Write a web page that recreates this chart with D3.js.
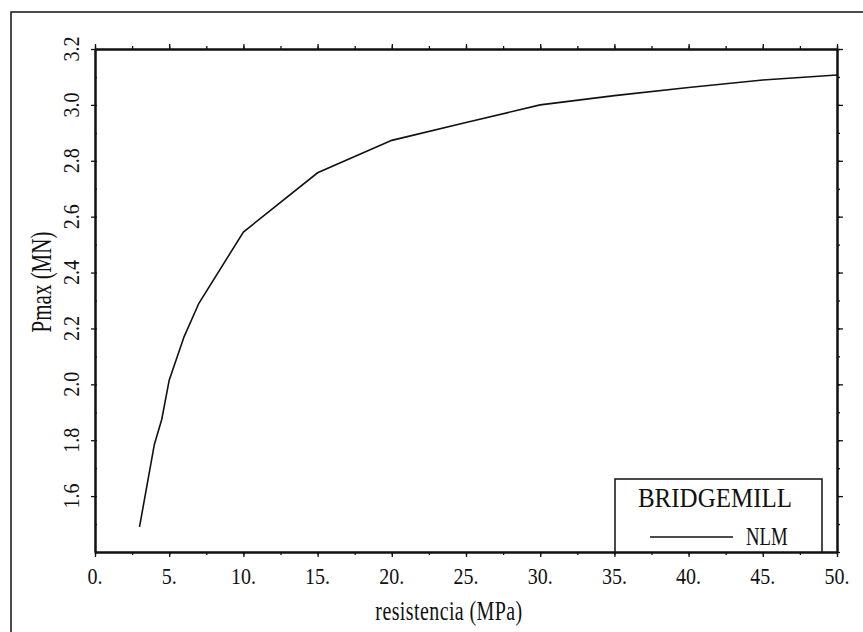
<!DOCTYPE html>
<html>
<head>
<meta charset="utf-8">
<script src="https://cdn.jsdelivr.net/npm/d3@7"></script>
<style>
  body { margin: 0; background: #fff; }
</style>
</head>
<body>
<div id="chart"></div>
<script>
// data
const resistencia = [3, 4, 4.5, 5, 6, 7, 10, 15, 20, 25, 30, 35, 40, 45, 50];
const pmax = [1.49, 1.785, 1.875, 2.015, 2.17, 2.29, 2.545, 2.757, 2.873, 2.937, 3.0, 3.033, 3.062, 3.089, 3.107];
const xTicks = [0, 5, 10, 15, 20, 25, 30, 35, 40, 45, 50];
const yTicks = [1.6, 1.8, 2.0, 2.2, 2.4, 2.6, 2.8, 3.0, 3.2];
const seriesName = 'NLM';
const legendTitle = 'BRIDGEMILL';

const width = 863;
const height = 632;
const margin = { top: 49, right: 26, bottom: 80, left: 95 };
const serif = '"Liberation Serif", "Times New Roman", Tinos, "DejaVu Serif", "Noto Serif", serif';

const svg = d3.select('#chart')
  .append('svg')
  .attr('width', width)
  .attr('height', height)
  .attr('font-family', serif);

// outer frame (runs off the right and bottom of the picture)
svg.append('rect')
  .attr('x', 11)
  .attr('y', 12)
  .attr('width', 900)
  .attr('height', 700)
  .attr('fill', 'none')
  .attr('stroke', '#111')
  .attr('stroke-width', 1.5);

const x = d3.scaleLinear()
  .domain([0, 50])
  .range([margin.left, width - margin.right]);
const y = d3.scaleLinear()
  .domain([1.4, 3.2])
  .range([height - margin.bottom, margin.top]);

const xMinor = d3.range(0, 50.1, 2.5);
const yMinor = d3.range(1.4, 3.21, 0.1);

// bottom axis
svg.append('g')
  .attr('transform', `translate(0,${y(1.4)})`)
  .call(d3.axisBottom(x).tickValues(xMinor).tickSize(3).tickFormat('').tickSizeOuter(0));
svg.append('g')
  .attr('transform', `translate(0,${y(1.4)})`)
  .call(d3.axisBottom(x).tickValues(xTicks).tickSize(5).tickFormat('').tickSizeOuter(0));

// top axis
svg.append('g')
  .attr('transform', `translate(0,${y(3.2)})`)
  .call(d3.axisTop(x).tickValues(xMinor).tickSize(3).tickFormat('').tickSizeOuter(0));
svg.append('g')
  .attr('transform', `translate(0,${y(3.2)})`)
  .call(d3.axisTop(x).tickValues(xTicks).tickSize(5).tickFormat('').tickSizeOuter(0));

// left axis: major ticks outside, minor inside
svg.append('g')
  .attr('transform', `translate(${x(0)},0)`)
  .call(d3.axisLeft(y).tickValues(yTicks).tickSize(4).tickFormat('').tickSizeOuter(0));
svg.append('g')
  .attr('transform', `translate(${x(0)},0)`)
  .call(d3.axisRight(y).tickValues(yMinor).tickSize(2).tickFormat('').tickSizeOuter(0));

// right axis
svg.append('g')
  .attr('transform', `translate(${x(50)},0)`)
  .call(d3.axisRight(y).tickValues(yMinor).tickSize(3).tickFormat('').tickSizeOuter(0));
svg.append('g')
  .attr('transform', `translate(${x(50)},0)`)
  .call(d3.axisRight(y).tickValues(yTicks).tickSize(6).tickFormat('').tickSizeOuter(0));

svg.selectAll('.domain')
  .attr('stroke', '#111')
  .attr('stroke-width', 2);
svg.selectAll('.tick line')
  .attr('stroke', '#111')
  .attr('stroke-width', 1.3);

// tick labels (the scan stretches the type a little vertically)
svg.selectAll('.xlabel')
  .data(xTicks)
  .enter().append('text')
  .attr('class', 'xlabel')
  .attr('transform', d => `translate(${x(d)},584) scale(1,1.12)`)
  .attr('text-anchor', 'middle')
  .attr('font-size', 20)
  .attr('fill', '#111')
  .text(d => d + '.');

svg.selectAll('.ylabel')
  .data(yTicks)
  .enter().append('text')
  .attr('class', 'ylabel')
  .attr('transform', d => `translate(79,${y(d)}) rotate(-90) scale(1,1.12)`)
  .attr('text-anchor', 'middle')
  .attr('font-size', 20)
  .attr('fill', '#111')
  .text(d => d3.format('.1f')(d));

// axis titles
svg.append('text')
  .attr('transform', 'translate(449,620) scale(1,1.4)')
  .attr('text-anchor', 'middle')
  .attr('font-size', 20)
  .attr('fill', '#111')
  .style('letter-spacing', '0.4px')
  .text('resistencia (MPa)');

svg.append('text')
  .attr('transform', 'translate(51,282) rotate(-90) scale(1,1.4)')
  .attr('text-anchor', 'middle')
  .attr('font-size', 21)
  .attr('fill', '#111')
  .text('Pmax (MN)');

// the curve
const line = d3.line()
  .x((d, i) => x(resistencia[i]))
  .y(d => y(d));

svg.append('path')
  .datum(pmax)
  .attr('d', line)
  .attr('fill', 'none')
  .attr('stroke', '#111')
  .attr('stroke-width', 1.6);

// legend
const legend = svg.append('g');
legend.append('rect')
  .attr('x', 615)
  .attr('y', 479)
  .attr('width', 207)
  .attr('height', y(1.4) - 479)
  .attr('fill', '#fff')
  .attr('stroke', '#111')
  .attr('stroke-width', 1.5);
legend.append('text')
  .attr('transform', 'translate(715,507) scale(1,1.12)')
  .attr('text-anchor', 'middle')
  .attr('font-size', 25)
  .attr('fill', '#111')
  .text(legendTitle);
legend.append('line')
  .attr('x1', 650)
  .attr('x2', 733)
  .attr('y1', 537)
  .attr('y2', 537)
  .attr('stroke', '#111')
  .attr('stroke-width', 1.3);
legend.append('text')
  .attr('transform', 'translate(746,545) scale(0.85,1.15)')
  .attr('font-size', 22)
  .attr('fill', '#111')
  .text(seriesName);
</script>
</body>
</html>
